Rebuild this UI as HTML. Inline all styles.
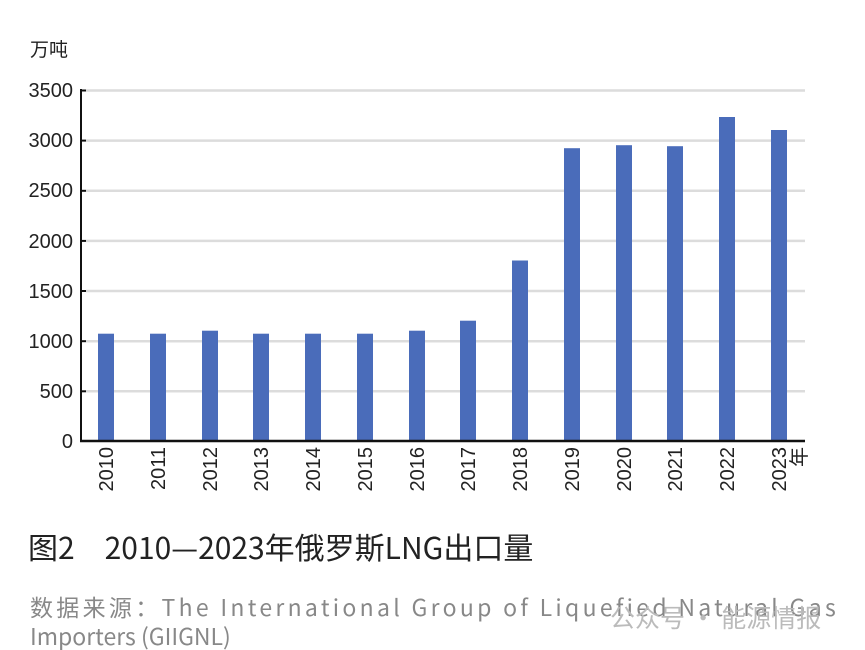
<!DOCTYPE html>
<html><head><meta charset="utf-8"><style>
body{margin:0;background:#fff;width:865px;height:650px;overflow:hidden;font-family:"Liberation Sans","Noto Sans CJK SC",sans-serif}
</style></head><body>
<svg width="865" height="650" xmlns="http://www.w3.org/2000/svg" style="position:absolute;left:0;top:0">
<text x="30" y="56" font-size="19" fill="#222" font-family="Noto Sans CJK SC,sans-serif">万吨</text>
<g stroke="#dcdcdc" stroke-width="2.5">
<line x1="86" x2="805" y1="90.5" y2="90.5"/><line x1="86" x2="805" y1="140.6" y2="140.6"/>
<line x1="86" x2="805" y1="190.8" y2="190.8"/><line x1="86" x2="805" y1="240.9" y2="240.9"/>
<line x1="86" x2="805" y1="291" y2="291"/><line x1="86" x2="805" y1="341.2" y2="341.2"/>
<line x1="86" x2="805" y1="391.3" y2="391.3"/>
</g>
<g font-size="20" fill="#222" text-anchor="end">
<text x="73" y="97">3500</text><text x="73" y="147">3000</text><text x="73" y="197">2500</text>
<text x="73" y="248">2000</text><text x="73" y="298">1500</text><text x="73" y="348">1000</text>
<text x="73" y="398">500</text><text x="73" y="448">0</text>
</g>
<g fill="#4a6cba">
<rect x="98" y="333.7" width="16" height="107.3"/>
<rect x="150" y="333.7" width="16" height="107.3"/>
<rect x="202" y="330.7" width="16" height="110.3"/>
<rect x="253" y="333.7" width="16" height="107.3"/>
<rect x="305" y="333.7" width="16" height="107.3"/>
<rect x="357" y="333.7" width="16" height="107.3"/>
<rect x="409" y="330.7" width="16" height="110.3"/>
<rect x="460" y="320.7" width="16" height="120.3"/>
<rect x="512" y="260.5" width="16" height="180.5"/>
<rect x="564" y="148.2" width="16" height="292.8"/>
<rect x="616" y="145.2" width="16" height="295.8"/>
<rect x="667" y="146.2" width="16" height="294.8"/>
<rect x="719" y="117" width="16" height="324"/>
<rect x="771" y="130" width="16" height="311"/>
</g>
<line x1="81" y1="89" x2="81" y2="442" stroke="#111" stroke-width="2"/>
<line x1="80" y1="441" x2="805" y2="441" stroke="#111" stroke-width="2.5"/>
<g stroke="#111" stroke-width="2">
<line x1="81" x2="86" y1="90.5" y2="90.5"/><line x1="81" x2="86" y1="140.6" y2="140.6"/>
<line x1="81" x2="86" y1="190.8" y2="190.8"/><line x1="81" x2="86" y1="240.9" y2="240.9"/>
<line x1="81" x2="86" y1="291" y2="291"/><line x1="81" x2="86" y1="341.2" y2="341.2"/>
<line x1="81" x2="86" y1="391.3" y2="391.3"/>
</g>
<g font-size="20" fill="#222" text-anchor="end">
<text transform="translate(113,447) rotate(-90)">2010</text>
<text transform="translate(165,447) rotate(-90)">2011</text>
<text transform="translate(217,447) rotate(-90)">2012</text>
<text transform="translate(268,447) rotate(-90)">2013</text>
<text transform="translate(320,447) rotate(-90)">2014</text>
<text transform="translate(372,447) rotate(-90)">2015</text>
<text transform="translate(424,447) rotate(-90)">2016</text>
<text transform="translate(475,447) rotate(-90)">2017</text>
<text transform="translate(527,447) rotate(-90)">2018</text>
<text transform="translate(579,447) rotate(-90)">2019</text>
<text transform="translate(631,447) rotate(-90)">2020</text>
<text transform="translate(682,447) rotate(-90)">2021</text>
<text transform="translate(734,447) rotate(-90)">2022</text>
<text transform="translate(786,447) rotate(-90)">2023</text>
<text transform="translate(806,447) rotate(-90)" font-family="Noto Sans CJK SC,sans-serif">年</text>
</g>
<text x="28" y="559" font-size="30" fill="#222" font-family="Noto Sans CJK SC,sans-serif">图2　2010—2023年俄罗斯LNG出口量</text>
<text x="30" y="616" font-size="23" fill="#888" letter-spacing="3.3" font-family="Noto Sans CJK SC,sans-serif">数据来源：The International Group of Liquefied Natural Gas</text>
<text x="30" y="645" font-size="23" fill="#888" font-family="Noto Sans CJK SC,sans-serif">Importers (GIIGNL)</text>
<text x="610" y="627" font-size="25" fill="#bbb" font-family="Noto Sans CJK SC,sans-serif">公众号 · 能源情报</text>
</svg>
</body></html>
